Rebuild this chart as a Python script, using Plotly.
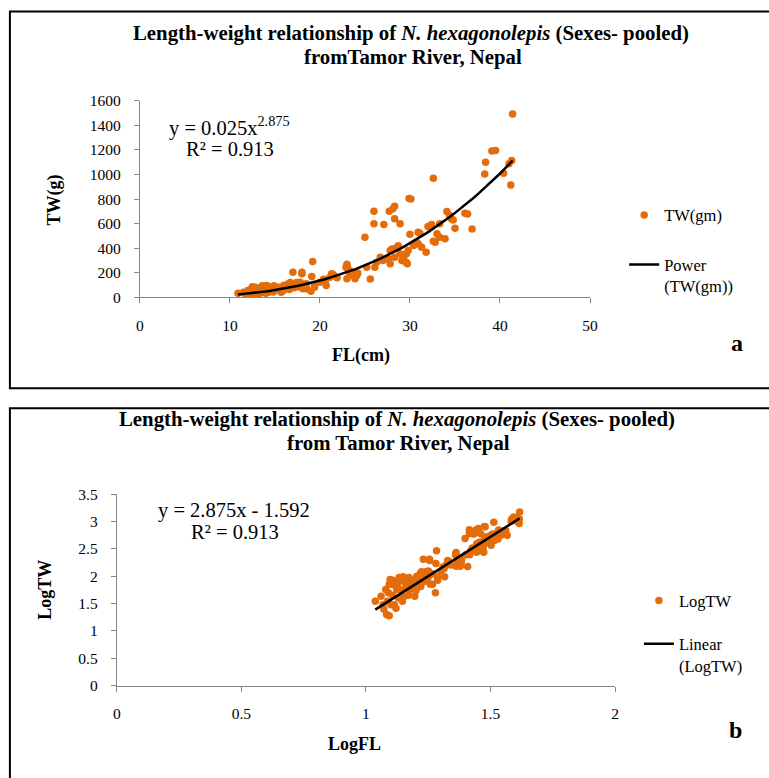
import numpy as np
import plotly.graph_objects as go

W, H = 769, 778

# ---------------- data ----------------
FL_CM = [41.4, 39.1, 39.5, 38.4, 38.3, 41.3, 41.0, 40.4, 41.2, 32.6, 30.1, 29.9,
         28.3, 28.1, 27.7, 26.0, 28.3, 26.0, 27.1, 28.9, 25.0, 34.1, 34.6, 34.8,
         34.4, 36.1, 36.4, 35.0, 36.9, 32.4, 33.3, 32.0, 31.1, 30.0, 30.9, 33.0,
         33.3, 33.9, 32.8, 32.6, 31.8, 30.9, 30.4, 29.8, 29.6, 29.3, 29.1, 29.7,
         27.8, 28.5, 28.9, 28.3, 27.6, 27.0, 26.7, 27.8, 29.6, 30.7, 31.3, 28.7,
         28.0, 25.2, 26.3, 26.1, 25.6, 23.0, 23.1, 23.3, 23.7, 24.1, 23.9, 23.0,
         23.3, 23.0, 24.2, 22.9, 21.3, 21.1, 20.6, 20.0, 20.7, 19.4, 21.9, 21.5,
         20.4, 19.2, 19.1, 18.0, 17.8, 19.0, 19.4, 18.5, 17.0, 18.0, 16.7, 17.4,
         18.1,
         10.9, 11.5, 11.7, 12.0, 12.1, 12.4, 12.2, 12.4, 12.5, 12.6, 12.8, 12.8,
         12.9, 13.0, 13.2, 13.3, 13.1, 13.5, 13.6, 13.7, 13.8, 14.0, 14.1, 14.2,
         14.3, 14.4, 14.6, 14.7, 14.8, 14.9, 15.0, 15.2, 15.4, 15.5, 15.6, 15.7,
         15.9, 16.0, 16.1, 16.3, 16.5, 16.6, 16.8, 16.9, 17.1, 17.4, 17.6, 17.8,
         18.1, 18.5, 11.8, 12.3, 13.4]
TW_G = [1493, 1192, 1195, 1100, 1005, 1114, 1087, 1011, 916, 970, 802, 805,
        742, 721, 702, 702, 640, 599, 593, 599, 490, 699, 640, 631,
        667, 685, 680, 563, 558, 593, 599, 577, 523, 515, 530, 518,
        490, 477, 450, 457, 368, 437, 423, 382, 355, 328, 300, 274,
        382, 404, 355, 328, 314, 300, 328, 274, 285, 450, 409, 420,
        395, 246, 287, 246, 150, 260, 233, 179, 193, 179, 152, 152,
        220, 270, 200, 245, 193, 165, 138, 124, 98, 84, 160, 185,
        148, 293, 171, 193, 98, 50, 98, 71, 205, 205, 121, 121,
        108,
        35, 43, 30, 57, 20, 19, 35, 71, 87, 30, 84, 45,
        70, 30, 26, 57, 75, 40, 95, 84, 55, 35, 98, 80,
        43, 60, 71, 88, 45, 95, 57, 75, 84, 60, 70, 43,
        55, 100, 71, 90, 111, 65, 110, 84, 80, 98, 85, 124,
        71, 111, 25, 50, 65]

# trend-line coefficients as printed on the chart
POWER_A = 0.025
POWER_B = 2.875
LIN_SLOPE = 2.875
LIN_INTERCEPT = -1.592

X_TICKS_A = [0, 10, 20, 30, 40, 50]
Y_TICKS_A = [0, 200, 400, 600, 800, 1000, 1200, 1400, 1600]
X_TICKS_B = [0, 0.5, 1, 1.5, 2]
X_LABELS_B = ["0", "0.5", "1", "1.5", "2"]
Y_TICKS_B = [0, 0.5, 1, 1.5, 2, 2.5, 3, 3.5]
Y_LABELS_B = ["0", "0.5", "1", "1.5", "2", "2.5", "3", "3.5"]

# ---------------- derived ----------------
fl = np.array(FL_CM, dtype=float)
tw = np.array(TW_G, dtype=float)
log_fl = np.log10(fl)
log_tw = np.log10(tw)

fit_x = np.linspace(fl.min(), fl.max(), 80)
fit_y = POWER_A * fit_x ** POWER_B
lin_x = np.array([log_fl.min(), log_fl.max()])
lin_y = LIN_SLOPE * lin_x + LIN_INTERCEPT

ORANGE = "#E46C0A"
SERIF = "Liberation Serif, Times New Roman, serif"
AXIS_GREY = "#868686"

# layout positions are given in reference pixels; calibration from earlier renders
SX, BX, SY, BY = 0.984, 4.2, 0.98, 8.0


def px(x):
    return ((x - BX) / SX) / W


def py(y):
    return 1 - ((y - BY) / SY) / H


fig = go.Figure()
fig.add_trace(go.Scatter(x=fl, y=tw, mode="markers", name="TW(gm)",
                         marker=dict(color=ORANGE, size=7.5),
                         xaxis="x", yaxis="y", legend="legend", legendgroup="a1"))
fig.add_trace(go.Scatter(x=fit_x, y=fit_y, mode="lines", name="Power<br>(TW(gm))",
                         line=dict(color="black", width=2.5),
                         xaxis="x", yaxis="y", legend="legend", legendgroup="a2"))
fig.add_trace(go.Scatter(x=log_fl, y=log_tw, mode="markers", name="LogTW",
                         marker=dict(color=ORANGE, size=7.5),
                         xaxis="x2", yaxis="y2", legend="legend2", legendgroup="b1"))
fig.add_trace(go.Scatter(x=lin_x, y=lin_y, mode="lines", name="Linear<br>(LogTW)",
                         line=dict(color="black", width=2.5),
                         xaxis="x2", yaxis="y2", legend="legend2", legendgroup="b2"))

axis_common = dict(showline=True, linecolor=AXIS_GREY, linewidth=1, ticks="outside",
                   ticklen=5, tickcolor=AXIS_GREY, showgrid=False, zeroline=False,
                   tickfont=dict(family=SERIF, size=15.5, color="black"),
                   fixedrange=True)

fig.update_layout(
    width=W, height=H, margin=dict(l=0, r=0, t=0, b=0),
    paper_bgcolor="white", plot_bgcolor="white",
    font=dict(family=SERIF, color="black"),
    xaxis=dict(domain=[px(140), px(590)], range=[0, 50], tickvals=X_TICKS_A,
               anchor="y", ticklabelstandoff=9, **axis_common),
    yaxis=dict(domain=[py(297), py(100)], range=[0, 1600], tickvals=Y_TICKS_A,
               anchor="x", ticklabelstandoff=10, **axis_common),
    xaxis2=dict(domain=[px(117), px(615)], range=[0, 2], tickvals=X_TICKS_B,
                ticktext=X_LABELS_B, anchor="y2", ticklabelstandoff=9, **axis_common),
    yaxis2=dict(domain=[py(686), py(494)], range=[0, 3.5], tickvals=Y_TICKS_B,
                ticktext=Y_LABELS_B, anchor="x2", ticklabelstandoff=10, **axis_common),
    legend=dict(x=630 / W, y=1 - 193 / H, xanchor="left", yanchor="top",
                font=dict(family=SERIF, size=16.5, color="black"),
                tracegroupgap=25, valign="top", bgcolor="rgba(0,0,0,0)"),
    legend2=dict(x=645 / W, y=1 - 587 / H, xanchor="left", yanchor="top",
                 font=dict(family=SERIF, size=16.5, color="black"),
                 tracegroupgap=19, valign="top", bgcolor="rgba(0,0,0,0)"),
    showlegend=True,
)

# frames
fig.add_shape(type="rect", xref="paper", yref="paper", x0=6 / W, x1=1.02,
              y0=py(388), y1=1 - 2.5 / H, line=dict(color="black", width=2))
fig.add_shape(type="rect", xref="paper", yref="paper", x0=6 / W, x1=1.02,
              y0=-0.02, y1=py(408), line=dict(color="black", width=2))

ann = []


def add_text(text, x, y, size, xanchor="center", yanchor="middle", bold=False,
             angle=0, align="center"):
    if bold:
        text = "<b>" + text + "</b>"
    ann.append(dict(text=text, x=px(x), y=py(y), xref="paper", yref="paper",
                    xanchor=xanchor, yanchor=yanchor, showarrow=False, textangle=angle,
                    align=align, font=dict(family=SERIF, size=size, color="black")))


add_text("Length-weight relationship of <i>N. hexagonolepis</i> (Sexes- pooled)", 411, 32, 20.8, bold=True)
add_text("fromTamor River, Nepal", 413, 56, 20.8, bold=True)
add_text("Length-weight relationship of <i>N. hexagonolepis</i> (Sexes- pooled)", 397, 419, 20.8, bold=True)
add_text("from Tamor River, Nepal", 399, 442.5, 20.8, bold=True)

add_text("y = 0.025x<sup>2.875</sup>", 167, 125.5, 20.5, xanchor="left")
add_text("R² = 0.913", 184, 148, 20.5, xanchor="left")
add_text("y = 2.875x - 1.592", 156, 510, 20.5, xanchor="left")
add_text("R² = 0.913", 189, 532, 20.5, xanchor="left")

add_text("TW(g)", 55, 199, 18, bold=True, angle=-90)
add_text("FL(cm)", 361, 355, 18, bold=True)
add_text("LogTW", 45, 590, 18, bold=True, angle=-90)
add_text("LogFL", 355, 744, 18, bold=True)

add_text("a", 737, 343, 24, bold=True)
add_text("b", 735, 730, 24, bold=True)

fig.update_layout(annotations=ann)

fig.write_html("out.html")
